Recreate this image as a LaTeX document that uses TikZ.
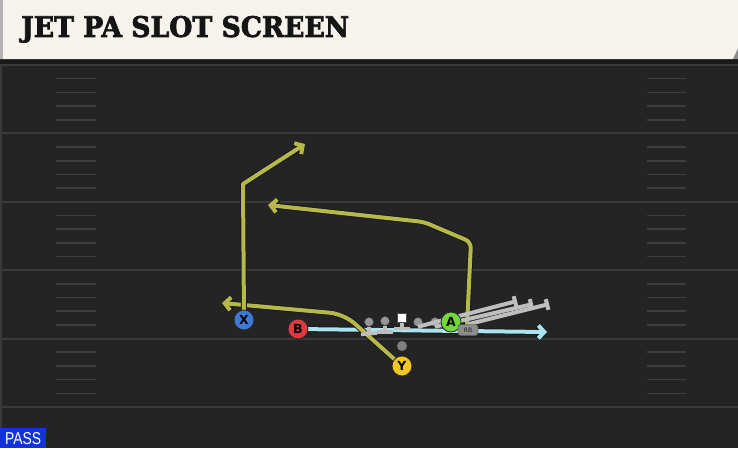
\documentclass[tikz,border=0pt]{standalone}
\usepackage{fontspec}
\usetikzlibrary{arrows.meta}
\setmainfont{DejaVu Sans}
\newfontfamily\titlefont[FakeBold=2.5]{DejaVu Serif Bold}
\newfontfamily\passfont{Liberation Sans}
\definecolor{fieldbg}{RGB}{36,36,36}
\definecolor{yardc}{RGB}{58,58,58}
\definecolor{hashc}{RGB}{62,62,62}
\definecolor{cream}{RGB}{245,243,236}
\definecolor{olivec}{RGB}{182,184,76}
\definecolor{skyc}{RGB}{170,228,240}
\definecolor{linec}{RGB}{190,190,190}
\definecolor{headc}{RGB}{150,150,150}
\definecolor{xblue}{RGB}{63,120,214}
\definecolor{bred}{RGB}{221,58,63}
\definecolor{agreen}{RGB}{114,216,58}
\definecolor{yyellow}{RGB}{242,198,35}
\definecolor{passblue}{RGB}{20,50,220}
\tikzset{
  yard/.style={draw=yardc, line width=2pt},
  hashmark/.style={draw=hashc, line width=1.6pt},
  route/.style={draw=olivec, line width=4pt, line join=round,
    preaction={draw=black!90, line width=5.8pt},
    -{Straight Barb[length=6pt,width=13pt]}},
  skyroute/.style={draw=skyc, line width=4pt,
    preaction={draw=black!90, line width=5.8pt},
    -{Straight Barb[length=6pt,width=13pt]}},
  blockline/.style={draw=linec, line width=4pt, -{Bar[width=11pt]}},
  tbar/.style={draw=linec, line width=3.5pt},
  head/.style={circle, fill=headc, draw=black!70, line width=0.4pt, minimum size=9pt, inner sep=0pt},
  player/.style={circle, draw=black!85, line width=0.8pt, minimum size=20pt, inner sep=0pt,
    font=\fontsize{12.5}{12.5}\selectfont\bfseries},
  rbbox/.style={draw=black!80, fill=black!45, rounded corners=2.5pt, minimum width=20pt, minimum height=11pt,
    inner sep=0pt, font=\fontsize{6}{6}\selectfont, text=black!85},
}
\begin{document}
\begin{tikzpicture}[x=1pt,y=-1pt]
\useasboundingbox (0,0) rectangle (738,448);
\fill[fieldbg] (0,0) rectangle (738,448);
% yard lines
\foreach \L in {65,133.4,201.8,270.2,338.6,407}{
  \draw[yard] (0,\L) -- (738,\L);
}
% hash marks
\foreach \L in {65,133.4,201.8,270.2,338.6}{
  \foreach \k in {1,2,3,4}{
    \draw[hashmark] (56,{\L+13.68*\k}) -- (96,{\L+13.68*\k});
    \draw[hashmark] (647,{\L+13.68*\k}) -- (686,{\L+13.68*\k});
  }
}
\draw[draw=yardc, line width=2pt] (1,60) -- (1,448);
% banner
\fill[black!90] (0,58) rectangle (738,64);
\fill[black!45] (733,59) -- (738,48) -- (738,59) -- cycle;
\fill[cream] (0,0) -- (738,0) -- (738,48) -- (733,59) -- (0,59) -- cycle;
\fill[black!30] (0,0) rectangle (3,59);
\node[anchor=south west, inner sep=0pt, text=black!92] (title) at (21,43)
  {\resizebox{328pt}{21pt}{\titlefont JET PA SLOT SCREEN}};

% player nodes (positions)
\node[player, fill=xblue] (X) at (244,320) {X};
\node[player, fill=bred] (B) at (298,329) {B};
\node[player, fill=agreen] (A) at (451,322) {A};
\node[player, fill=yyellow] (Y) at (402,366) {Y};
\node[rbbox] (RB) at (468,330) {RB};

% route coordinates
\coordinate (xc) at (243,184);
\coordinate (xe) at (305,144);
\coordinate (yc) at (344,314);
\coordinate (ye) at (222,303);
\coordinate (ac1) at (471,242);
\coordinate (ac2) at (424,222);
\coordinate (ae) at (268,205);
\coordinate (be) at (547,332);
\coordinate (g1) at (517,301);
\coordinate (g2) at (533,304);
\coordinate (g3) at (549,304);

% routes
\draw[skyroute] (B.center) -- (be);
\draw[route, rounded corners=14pt] (Y.center) -- (yc) -- (ye);
\draw[route] (X.center) -- (xc) -- (xe);
\draw[route, rounded corners=6pt] (467,326) -- (ac1) -- (ac2) -- (ae);

% offensive line
\node[head] (L1) at (369,322) {};
\node[head] (L2) at (385,321) {};
\node[rectangle, fill=white, draw=black!70, line width=0.4pt, minimum size=9pt, inner sep=0pt] (C) at (402,318) {};
\node[head] (L4) at (418,322) {};
\node[head] (L5) at (435,322) {};
\draw[tbar] (L1.south) -- (369,333);
\draw[tbar] (361,334.5) -- (377,333);
\draw[tbar] (L2.south) -- (385,331);
\draw[tbar] (377,332) -- (393,332);
\draw[tbar] (C.south) -- (402,328);
\draw[tbar] (394,328.5) -- (410,328.5);
% blocking lines
\draw[blockline] (L4.south) -- (g1);
\draw[blockline] (L5.south) -- (g2);
\draw[blockline] (RB.north) -- (g3);
% QB
\node[circle, fill=black!50, minimum size=10pt, inner sep=0pt] (QB) at (402,346) {};

% redraw players on top
\node[player, fill=xblue] at (X) {X};
\node[player, fill=bred] at (B) {B};
\node[player, fill=agreen] at (A) {A};
\node[player, fill=yyellow] at (Y) {Y};
\node[rbbox] at (RB) {RB};

% PASS label
\fill[passblue] (0,428) rectangle (46,448);
\node[anchor=south west, inner sep=0pt, text=white] (pass) at (5,445)
  {\resizebox{36pt}{12pt}{\passfont PASS}};
\end{tikzpicture}
\end{document}
